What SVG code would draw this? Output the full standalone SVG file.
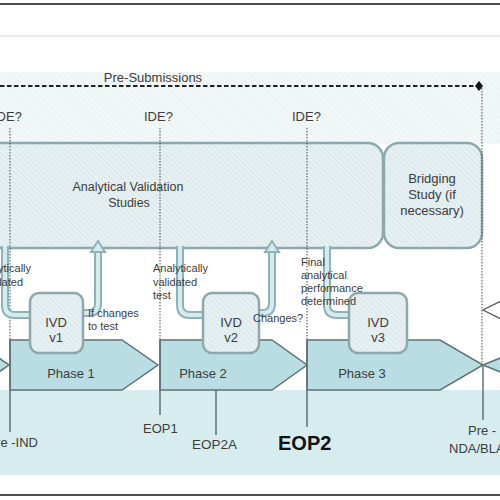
<svg xmlns="http://www.w3.org/2000/svg" width="500" height="500" viewBox="0 0 500 500">
<defs>
<pattern id="hatch" width="4" height="4" patternUnits="userSpaceOnUse" patternTransform="rotate(-45)"><rect width="4" height="4" fill="#e6f0f2"/><line x1="0" y1="0" x2="0" y2="4" stroke="#d5e5e8" stroke-width="1.5"/></pattern>
<pattern id="hatchLight" width="4" height="4" patternUnits="userSpaceOnUse" patternTransform="rotate(-45)"><rect width="4" height="4" fill="#f2f7f8"/><line x1="0" y1="0" x2="0" y2="4" stroke="#e8f0f2" stroke-width="1.5"/></pattern>
<style>
text{font-family:"Liberation Sans",Arial,sans-serif;fill:#3c3c3c}
.box{fill:url(#hatch);stroke:#8ca8ac;stroke-width:2.5}
.phase{fill:#badde3;stroke:#5f7275;stroke-width:1.5}
.dot{stroke:#444;stroke-width:1;stroke-dasharray:1.5 1.5;fill:none}
.solid{stroke:#5f7275;stroke-width:1.5;fill:none}
.shaftO{stroke:#8db2b7;stroke-width:8;fill:none}
.shaftI{stroke:#d6ebee;stroke-width:4;fill:none}
.head{fill:#d6ebee;stroke:#8db2b7;stroke-width:2}
.lbl{font-size:13px}
.sm{font-size:11px}
</style>
</defs>
<rect width="500" height="500" fill="#ffffff"/>
<line x1="0" y1="4" x2="500" y2="4" stroke="#111" stroke-width="1.5"/>
<line x1="0" y1="36" x2="500" y2="36" stroke="#e3e3e3" stroke-width="1.5"/>
<rect x="0" y="72" width="500" height="72" fill="url(#hatchLight)"/>
<rect x="0" y="390" width="500" height="85" fill="#d7ecef"/>
<line x1="0" y1="495" x2="500" y2="495" stroke="#111" stroke-width="1.5"/>

<g id="pre-submissions">
<line x1="0" y1="86" x2="479" y2="86" stroke="#222" stroke-width="1.8" stroke-dasharray="4.5 2.5"/>
<polygon points="479,81 483,86 479,91 475,86" fill="#111"/>
<text x="153" y="82" text-anchor="middle" class="lbl">Pre-Submissions</text>
</g>

<g id="ide-labels">
<text x="-7" y="121" class="lbl">IDE?</text>
<text x="144" y="121" class="lbl">IDE?</text>
<text x="292" y="121" class="lbl">IDE?</text>
</g>

<g id="analytical-validation">
<rect x="-30" y="143" width="413" height="105" rx="15" class="box"/>
<text x="128" y="191" text-anchor="middle" style="font-size:12.5px">Analytical Validation</text>
<text x="129" y="207" text-anchor="middle" style="font-size:12.5px">Studies</text>
</g>

<g id="bridging-study">
<rect x="384" y="143" width="98" height="105" rx="15" class="box"/>
<text x="432" y="183" text-anchor="middle" class="lbl">Bridging</text>
<text x="432" y="199" text-anchor="middle" class="lbl">Study (if</text>
<text x="432" y="215" text-anchor="middle" class="lbl">necessary)</text>
</g>

<g id="phase-0">
<polygon points="-40,340 -27,340 9,365 -27,390 -40,390" class="phase"/>
</g>
<g id="phase-1">
<polygon points="10,340 122,340 158,365 122,390 10,390" class="phase"/>
<text x="71" y="378" text-anchor="middle" class="lbl">Phase 1</text>
</g>
<g id="phase-2">
<polygon points="160,340 272,340 307,365 272,390 160,390" class="phase"/>
<text x="203" y="378" text-anchor="middle" class="lbl">Phase 2</text>
</g>
<g id="phase-3">
<polygon points="307,340 440,340 483,365 440,390 307,390" class="phase"/>
<text x="362" y="378" text-anchor="middle" class="lbl">Phase 3</text>
</g>
<g id="phase-4">
<polygon points="483,365 520,350 520,380" class="phase"/>
</g>
<g id="right-marker">
<polyline points="501,301 483,310 501,319" fill="none" stroke="#555" stroke-width="1.2"/>
</g>

<g id="connectors">
<line x1="10" y1="128" x2="10" y2="340" class="dot"/>
<line x1="160" y1="128" x2="160" y2="340" class="dot"/>
<line x1="307" y1="128" x2="307" y2="340" class="dot"/>
<line x1="482" y1="88" x2="482" y2="365" class="dot"/>
<line x1="10" y1="340" x2="10" y2="432" class="solid"/>
<line x1="160" y1="340" x2="160" y2="415" class="solid"/>
<line x1="216" y1="390" x2="216" y2="435" class="solid"/>
<line x1="307" y1="340" x2="307" y2="427" class="solid"/>
<line x1="483" y1="365" x2="483" y2="420" class="solid"/>

<path d="M5,246 L5,305 Q5,315 15,315 L34,315" class="shaftO"/>
<path d="M5,246 L5,305 Q5,315 15,315 L35,315" class="shaftI"/>
<polygon points="33,308 43,315 33,322" class="head"/>

<path d="M83,313 L89,313 Q98,313 98,303 L98,251" class="shaftO"/>
<path d="M82,313 L89,313 Q98,313 98,303 L98,252" class="shaftI"/>
<polygon points="91,252 98,241 105,252" class="head"/>

<path d="M180,246 L180,305 Q180,315 190,315 L208,315" class="shaftO"/>
<path d="M180,246 L180,305 Q180,315 190,315 L209,315" class="shaftI"/>
<polygon points="207,308 217,315 207,322" class="head"/>

<path d="M259,313 L263,313 Q272,313 272,303 L272,251" class="shaftO"/>
<path d="M258,313 L263,313 Q272,313 272,303 L272,252" class="shaftI"/>
<polygon points="265,252 272,241 279,252" class="head"/>

<path d="M327,246 L327,305 Q327,315 337,315 L355,315" class="shaftO"/>
<path d="M327,246 L327,305 Q327,315 337,315 L356,315" class="shaftI"/>
<polygon points="354,308 364,315 354,322" class="head"/>
</g>

<g id="ivd-v1">
<rect x="30" y="293" width="53" height="60" rx="9" class="box"/>
<text x="56" y="327" text-anchor="middle" class="lbl">IVD</text>
<text x="56" y="342" text-anchor="middle" class="lbl">v1</text>
</g>
<g id="ivd-v2">
<rect x="203" y="293" width="56" height="60" rx="9" class="box"/>
<text x="231" y="327" text-anchor="middle" class="lbl">IVD</text>
<text x="231" y="342" text-anchor="middle" class="lbl">v2</text>
</g>
<g id="ivd-v3">
<rect x="349" y="293" width="58" height="60" rx="9" class="box"/>
<text x="378" y="327" text-anchor="middle" class="lbl">IVD</text>
<text x="378" y="342" text-anchor="middle" class="lbl">v3</text>
</g>

<g id="arrow-labels">
<text x="-24" y="272" class="sm">Analytically</text>
<text x="-21" y="286" class="sm">validated</text>
<text x="153" y="272" class="sm">Analytically</text>
<text x="153" y="286" class="sm">validated</text>
<text x="153" y="299" class="sm">test</text>
<text x="88" y="317" class="sm">If changes</text>
<text x="88" y="330" class="sm">to test</text>
<text x="253" y="322" class="sm">Changes?</text>
<text x="301" y="266" class="sm">Final</text>
<text x="301" y="279" class="sm">analytical</text>
<text x="301" y="292" class="sm">performance</text>
<text x="301" y="305" class="sm">determined</text>
</g>

<g id="milestones">
<text x="38" y="447" text-anchor="end" class="lbl">Pre -IND</text>
<text x="143" y="433" class="lbl">EOP1</text>
<text x="192" y="449" style="font-size:13.5px">EOP2A</text>
<text x="278" y="450" style="font-size:20px;font-weight:bold;fill:#111">EOP2</text>
<text x="468" y="435" class="lbl">Pre -</text>
<text x="449" y="453" class="lbl">NDA/BLA</text>
</g>
</svg>
